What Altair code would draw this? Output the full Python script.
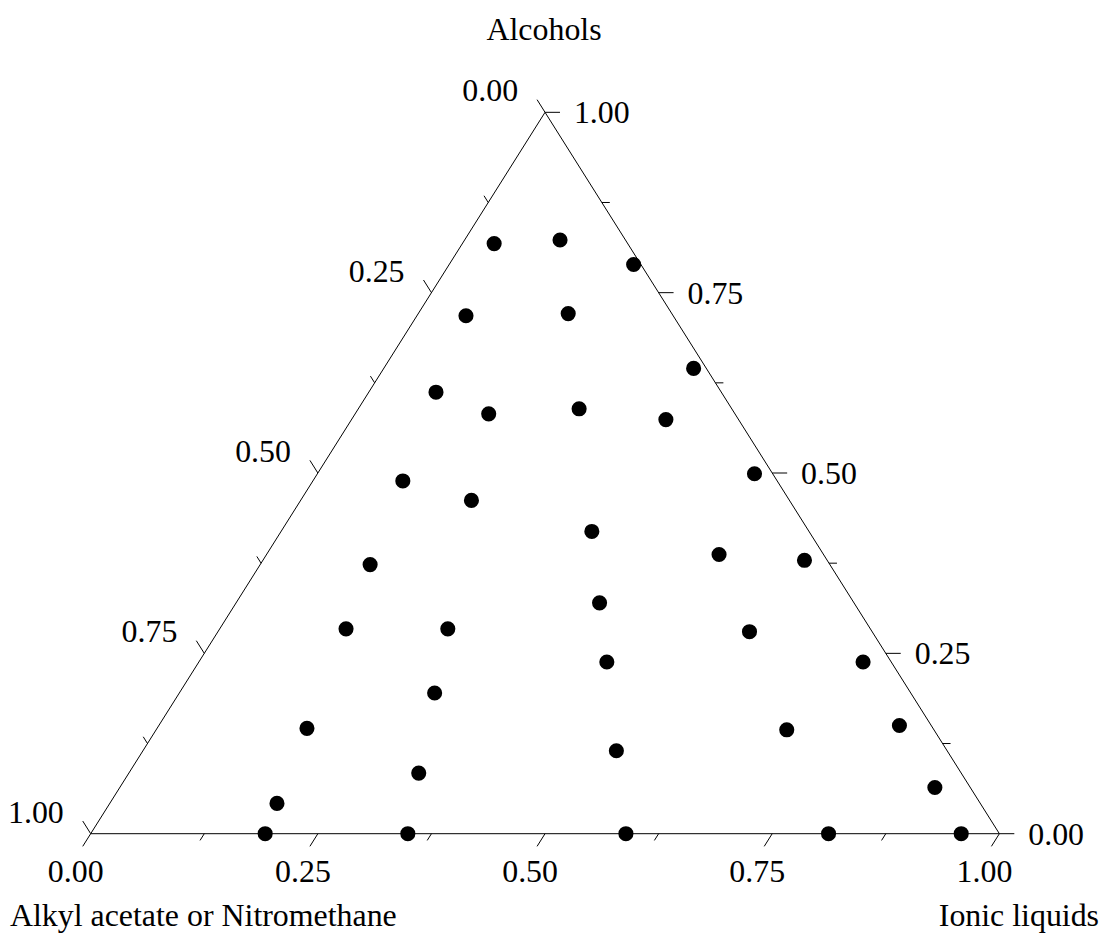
import altair as alt
import pandas as pd

# Ternary compositions (mole fractions)
alcohol = [0.823, 0.818, 0.789, 0.718, 0.721, 0.645, 0.612, 0.582, 0.589, 0.574,
           0.489, 0.499, 0.462, 0.419, 0.373, 0.387, 0.379, 0.284, 0.284, 0.320,
           0.280, 0.238, 0.238, 0.195, 0.146, 0.144, 0.150, 0.115, 0.084, 0.064,
           0.042, 0.0, 0.0, 0.0, 0.0, 0.0]
ionic = [0.105, 0.035, 0.203, 0.054, 0.165, 0.341, 0.074, 0.147, 0.243, 0.346,
         0.099, 0.481, 0.188, 0.342, 0.121, 0.498, 0.596, 0.139, 0.251, 0.400,
         0.585, 0.449, 0.731, 0.281, 0.165, 0.694, 0.815, 0.521, 0.319, 0.897,
         0.184, 0.192, 0.349, 0.589, 0.812, 0.958]
acetate = [0.072, 0.147, 0.008, 0.228, 0.114, 0.014, 0.314, 0.271, 0.168, 0.080,
           0.412, 0.020, 0.350, 0.239, 0.506, 0.115, 0.025, 0.577, 0.465, 0.280,
           0.135, 0.313, 0.031, 0.524, 0.689, 0.162, 0.035, 0.364, 0.597, 0.039,
           0.774, 0.808, 0.651, 0.411, 0.188, 0.042]

tick_values = [0.0, 0.125, 0.25, 0.375, 0.5, 0.625, 0.75, 0.875, 1.0]
label_values = [0.0, 0.25, 0.5, 0.75, 1.0]
label_texts = ["0.00", "0.25", "0.50", "0.75", "1.00"]

title_top = "Alcohols"
title_left = "Alkyl acetate or Nitromethane"
title_right = "Ionic liquids"

W, H = 912, 724
FONT = "Liberation Serif"
FS = 32


def tern(a, il):
    # cartesian position in unit space: x along bottom, y = alcohol
    return il + 0.5 * a, a


# points
pts = pd.DataFrame({"alcohol": alcohol, "ionic": ionic, "acetate": acetate})
pts["x"] = pts["ionic"] + 0.5 * pts["alcohol"]
pts["y"] = pts["alcohol"]

# triangle edges from the three pure-component vertices
vBL = tern(0, 0)
vBR = tern(0, 1)
vT = tern(1, 0)
edges = pd.DataFrame([
    {"x": vBL[0], "y": vBL[1], "x2": vBR[0], "y2": vBR[1]},
    {"x": vBR[0], "y": vBR[1], "x2": vT[0], "y2": vT[1]},
    {"x": vT[0], "y": vT[1], "x2": vBL[0], "y2": vBL[1]},
])

ux, uy = 0.5327, 0.8463  # unit direction of slanted edges in pixels
rows = []
for t in tick_values:
    L = 15 if t in label_values else 8
    # bottom axis (ionic liquids): ticks parallel to left edge, outward
    bx, by = tern(0, t)
    rows.append({"x": bx, "y": by, "x2": bx - L * ux / W, "y2": by - L * uy / H})
    # left axis (acetate): ticks parallel to right edge, outward
    lx, ly = tern(1 - t, 0)
    rows.append({"x": lx, "y": ly, "x2": lx - L * ux / W, "y2": ly + L * uy / H})
    # right axis (alcohol): horizontal ticks
    rx, ry = tern(t, 1 - t)
    rows.append({"x": rx, "y": ry, "x2": rx + L / W, "y2": ry})
ticks = pd.DataFrame(rows)

bot_lab = pd.DataFrame([{"x": tern(0, v)[0], "y": 0.0, "t": s} for v, s in zip(label_values, label_texts)])
left_lab = pd.DataFrame([{"x": tern(1 - v, 0)[0], "y": tern(1 - v, 0)[1], "t": s} for v, s in zip(label_values, label_texts)])
right_lab = pd.DataFrame([{"x": tern(v, 1 - v)[0], "y": tern(v, 1 - v)[1], "t": s} for v, s in zip(label_values, label_texts)])

xs = alt.Scale(domain=[0, 1], nice=False, zero=False)
ys = alt.Scale(domain=[0, 1], nice=False, zero=False)
X = alt.X("x:Q", scale=xs, axis=None)
Y = alt.Y("y:Q", scale=ys, axis=None)

edge_layer = alt.Chart(edges).mark_rule(color="black", strokeWidth=1).encode(x=X, y=Y, x2="x2:Q", y2="y2:Q")
tick_layer = alt.Chart(ticks).mark_rule(color="black", strokeWidth=1).encode(x=X, y=Y, x2="x2:Q", y2="y2:Q")

txt = dict(font=FONT, fontSize=FS, color="black", baseline="alphabetic")
bot_layer = alt.Chart(bot_lab).mark_text(align="center", dx=-15, dy=48, **txt).encode(x=X, y=Y, text="t:N")
left_lab_layer = alt.Chart(left_lab).mark_text(align="right", dx=-27, dy=-11, **txt).encode(x=X, y=Y, text="t:N")
right_layer = alt.Chart(right_lab).mark_text(align="left", dx=29, dy=11, **txt).encode(x=X, y=Y, text="t:N")

t1 = alt.Chart(pd.DataFrame({"t": [title_top]})).mark_text(align="center", **txt).encode(
    x=alt.value(455), y=alt.value(-73), text="t:N")
t2 = alt.Chart(pd.DataFrame({"t": [title_left]})).mark_text(align="left", **txt).encode(
    x=alt.value(-81), y=alt.value(817), text="t:N")
t3 = alt.Chart(pd.DataFrame({"t": [title_right]})).mark_text(align="right", **txt).encode(
    x=alt.value(1012), y=alt.value(817), text="t:N")

dots = alt.Chart(pts).mark_circle(color="black", opacity=1, size=230).encode(x=X, y=Y)

chart = alt.layer(edge_layer, tick_layer, bot_layer, left_lab_layer, right_layer, t1, t2, t3, dots).properties(
    width=W, height=H,
    background="white",
    autosize=alt.AutoSizeParams(type="none"),
    padding={"left": 83, "top": 103, "right": 105, "bottom": 106},
).configure_view(strokeWidth=0, stroke="transparent")

chart.save("out.html", embed_options={"renderer": "svg", "actions": False})
